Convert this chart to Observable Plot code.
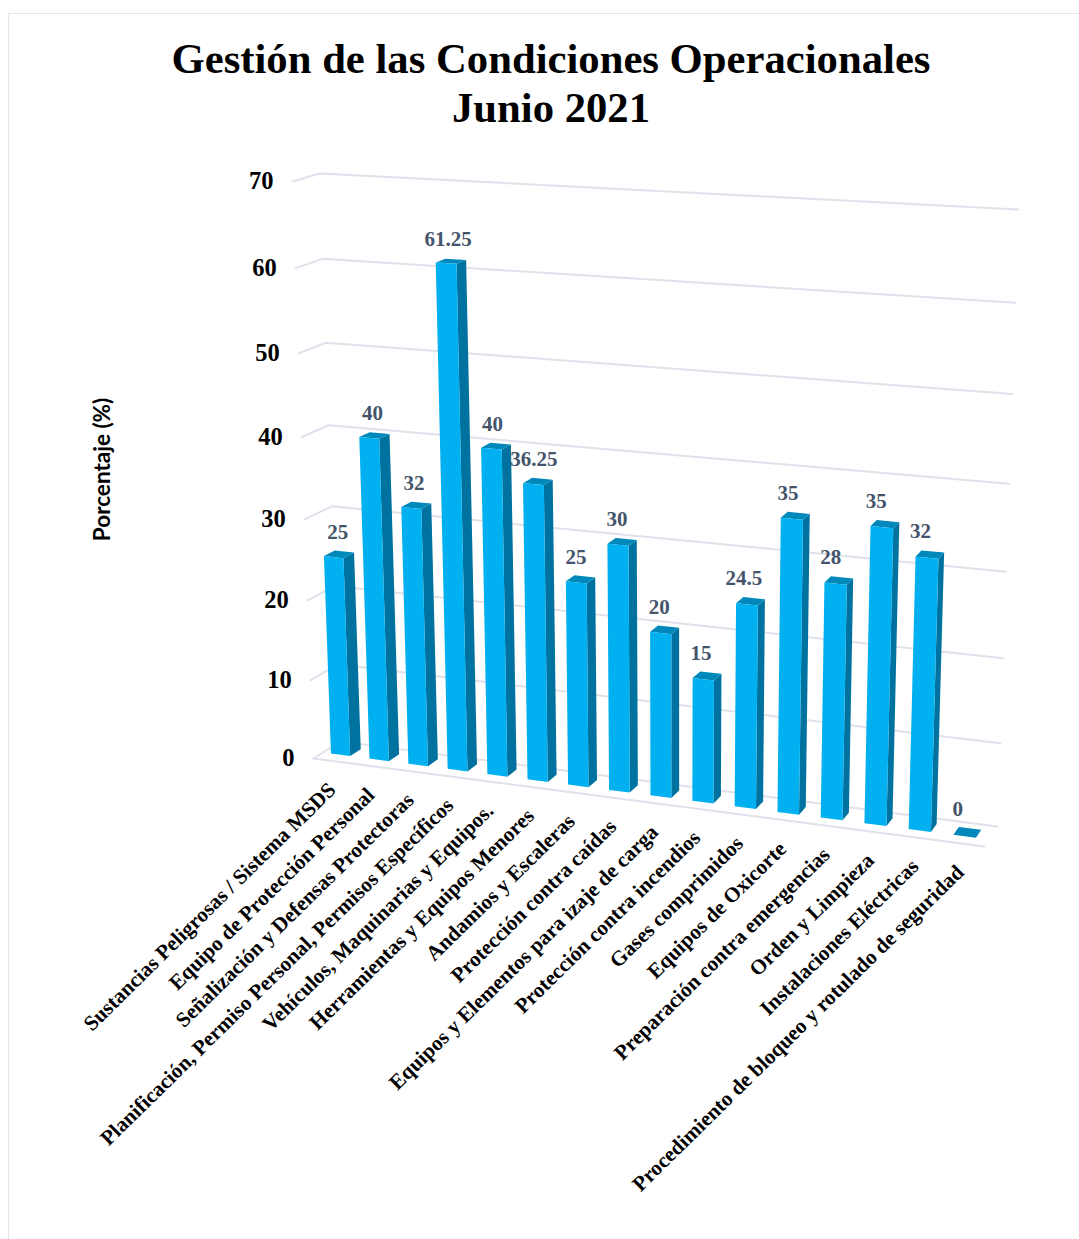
<!DOCTYPE html>
<html lang="es">
<head>
<meta charset="utf-8">
<script src="https://cdn.jsdelivr.net/npm/d3@7"></script>
<script src="https://cdn.jsdelivr.net/npm/@observablehq/plot@0.6"></script>
<style>
  html, body { margin: 0; padding: 0; background: #fff; }
  #page { position: relative; width: 1079px; height: 1239px; overflow: hidden; }
  #frame { position: absolute; left: 8px; top: 13px; right: -4px; bottom: -4px;
           border-left: 1.5px solid #e2e6ec; border-top: 1.5px solid #e2e6ec; }
  h1 { position: absolute; left: 0; top: 34px; width: 1102px; margin: 0; text-align: center;
       font: bold 42.7px/49px "Liberation Serif", serif; color: #000; }
  #chart { position: absolute; left: 0; top: 140px; }
  #chart svg { display: block; }
</style>
</head>
<body>
<div id="page">
  <div id="frame"></div>
  <h1>Gestión de las Condiciones Operacionales<br>Junio 2021</h1>
  <div id="chart"></div>
</div>
<script>
// Categories and their percentages
const categories = [
  "Sustancias Peligrosas / Sistema MSDS",
  "Equipo de Protección Personal",
  "Señalización y Defensas Protectoras",
  "Planificación, Permiso Personal, Permisos Específicos",
  "Vehículos, Maquinarias y Equipos.",
  "Herramientas y Equipos Menores",
  "Andamios y Escaleras",
  "Protección contra caídas",
  "Equipos y Elementos para izaje de carga",
  "Protección contra incendios",
  "Gases comprimidos",
  "Equipos de Oxicorte",
  "Preparación contra emergencias",
  "Orden y Limpieza",
  "Instalaciones Eléctricas",
  "Procedimiento de bloqueo y rotulado de seguridad"
];
const values = [25, 40, 32, 61.25, 40, 36.25, 25, 30, 20, 15, 24.5, 35, 28, 35, 32, 0];
const ticks = [0, 10, 20, 30, 40, 50, 60, 70];
const maxValue = 70;

// Perspective box: screen corners of the back wall and of the front plane,
// each listed as [bottom-left, bottom-right, top-right, top-left].
const backWall = [[340, 741], [997, 826], [1018, 209], [319, 173]];
const frontWall = [[313, 758], [984, 846], [1005, 220], [292, 181]];

// Homography taking the unit square onto a quadrilateral.
function quadMap([[x0, y0], [x1, y1], [x2, y2], [x3, y3]]) {
  const dx1 = x1 - x2, dx2 = x3 - x2, sx = x0 - x1 + x2 - x3;
  const dy1 = y1 - y2, dy2 = y3 - y2, sy = y0 - y1 + y2 - y3;
  const det = dx1 * dy2 - dx2 * dy1;
  const g = (sx * dy2 - dx2 * sy) / det;
  const h = (dx1 * sy - sx * dy1) / det;
  return (s, t) => {
    const w = g * s + h * t + 1;
    return [
      ((x1 - x0 + g * x1) * s + (x3 - x0 + h * x3) * t + x0) / w,
      ((y1 - y0 + g * y1) * s + (y3 - y0 + h * y3) * t + y0) / w
    ];
  };
}
const mapBack = quadMap(backWall);
const mapFront = quadMap(frontWall);

// u: position along the category axis, v: percentage, d: depth (0 back, 1 front).
function project(u, v, d) {
  const [bx, by] = mapBack(u, v / maxValue);
  const [fx, fy] = mapFront(u, v / maxValue);
  return [bx + (fx - bx) * d, by + (fy - by) * d];
}

const n = categories.length;
const slotOffset = 0.46;   // bars sit a little left of each slot's centre
const halfWidth = 0.25;    // half a bar, in slot units
const depthBack = 0.25, depthFront = 0.65;
const slot = (i, k = 0) => (i + slotOffset + k) / n;

// One row per polygon vertex, grouped by "id" when the faces are filled.
function face(id, corners) {
  return corners.map(([u, v, d]) => {
    const [x, y] = project(u, v, d);
    return {id, x, y};
  });
}

const fronts = [], sides = [], tops = [];
values.forEach((value, i) => {
  const l = slot(i, -halfWidth), r = slot(i, halfWidth);
  if (value > 0) {
    fronts.push(...face(i, [[l, 0, depthFront], [r, 0, depthFront], [r, value, depthFront], [l, value, depthFront]]));
    sides.push(...face(i, [[r, 0, depthFront], [r, 0, depthBack], [r, value, depthBack], [r, value, depthFront]]));
  }
  tops.push(...face(i, [[l, value, depthFront], [r, value, depthFront], [r, value, depthBack], [l, value, depthBack]]));
});

// Back-wall gridlines plus their short return along the left side wall.
const grid = ticks.flatMap((t) => face(t, [[1, t, 0], [0, t, 0], [0, t, 1]]));
const floorEdge = face("floor", [[0, 0, 1], [1, 0, 1]]);

const tickRows = ticks.map((t) => {
  const [x, y] = project(0, t, 1);
  return {t, x, y};
});
// Value labels drift slightly towards the left of their bar along the axis.
const valueRows = values.map((value, i) => {
  const [x, y] = project(slot(i, -0.035 - 0.012 * i), value, (depthBack + depthFront) / 2);
  return {value, x, y};
});
const categoryRows = categories.map((name, i) => {
  const [x, y] = project(slot(i, -0.08), 0, 1);
  return {name, x, y};
});

const serif = "Liberation Serif";
const chart = Plot.plot({
  width: 1079,
  height: 1099,
  margin: 0,
  // Screen space of the projected box; the SVG starts below the title.
  x: {domain: [0, 1079], range: [0, 1079], axis: null},
  y: {domain: [140, 1239], range: [0, 1099], axis: null},
  marks: [
    Plot.line(grid, {x: "x", y: "y", z: "id", stroke: "#dfe2ea", strokeWidth: 2}),
    Plot.line(floorEdge, {x: "x", y: "y", z: "id", stroke: "#dfe2ea", strokeWidth: 2}),
    Plot.line(sides, {x: "x", y: "y", z: "id", fill: "#00729f", stroke: "none"}),
    Plot.line(tops, {x: "x", y: "y", z: "id", fill: "#0088bb", stroke: "none"}),
    Plot.line(fronts, {x: "x", y: "y", z: "id", fill: "#00b0f0", stroke: "none"}),
    Plot.text(tickRows, {
      x: "x", y: "y", text: (d) => String(d.t), dx: -19, dy: 0, textAnchor: "end",
      fontFamily: serif, fontWeight: "bold", fontSize: 24.5, fill: "#000"
    }),
    Plot.text(valueRows, {
      x: "x", y: "y", text: (d) => String(d.value), dy: -22,
      fontFamily: serif, fontWeight: "bold", fontSize: 21, fill: "#44546a"
    }),
    Plot.text(categoryRows, {
      x: "x", y: "y", text: "name", rotate: -44.5, textAnchor: "end", dx: 4, dy: 26,
      fontFamily: serif, fontWeight: "bold", fontSize: 21.2, fill: "#000"
    }),
    Plot.text(["Porcentaje (%)"], {
      x: () => 102, y: () => 469, text: (d) => d, rotate: -90,
      fontFamily: "Lato", fontWeight: "bold", fontSize: 22.5, fill: "#000"
    })
  ]
});
document.getElementById("chart").append(chart);
</script>
</body>
</html>
